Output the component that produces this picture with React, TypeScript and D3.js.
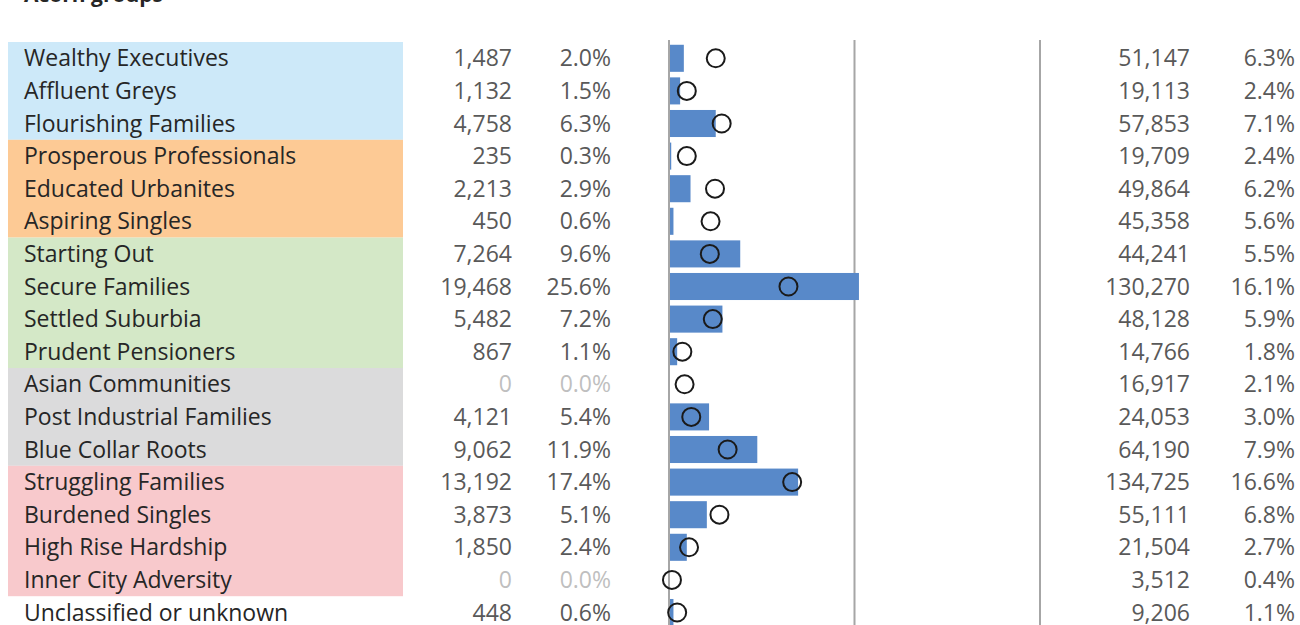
import React, { useRef, useEffect } from 'react';
import * as d3 from 'd3';

// Acorn groups, in table order
const groups = [
  'Wealthy Executives', 'Affluent Greys', 'Flourishing Families',
  'Prosperous Professionals', 'Educated Urbanites', 'Aspiring Singles',
  'Starting Out', 'Secure Families', 'Settled Suburbia', 'Prudent Pensioners',
  'Asian Communities', 'Post Industrial Families', 'Blue Collar Roots',
  'Struggling Families', 'Burdened Singles', 'High Rise Hardship', 'Inner City Adversity',
  'Unclassified or unknown',
];

// Acorn category bands (count of groups in each, and band colour)
const categorySizes = [3, 3, 4, 3, 4];
const categoryColors = ['#cde9f9', '#fdca95', '#d4e8c7', '#dbdbdc', '#f8c9cc'];

// local counts and share
const counts = [1487, 1132, 4758, 235, 2213, 450, 7264, 19468, 5482, 867, 0, 4121, 9062, 13192, 3873, 1850, 0, 448];
const shares = [2.0, 1.5, 6.3, 0.3, 2.9, 0.6, 9.6, 25.6, 7.2, 1.1, 0.0, 5.4, 11.9, 17.4, 5.1, 2.4, 0.0, 0.6];

// comparison base counts and share
const baseCounts = [51147, 19113, 57853, 19709, 49864, 45358, 44241, 130270, 48128, 14766, 16917, 24053, 64190, 134725, 55111, 21504, 3512, 9206];
const baseShares = [6.3, 2.4, 7.1, 2.4, 6.2, 5.6, 5.5, 16.1, 5.9, 1.8, 2.1, 3.0, 7.9, 16.6, 6.8, 2.7, 0.4, 1.1];

const gridTicks = [0, 25, 50];

const W = 1300;
const H = 625;
const FONT = '"Open Sans", Lato, sans-serif';
const FS = 23;

const App: React.FC = () => {
  const svgRef = useRef<SVGSVGElement | null>(null);

  useEffect(() => {
    if (!svgRef.current) return;
    const svg = d3.select(svgRef.current);
    svg.selectAll('*').remove();

    const top = 42;
    const step = 32.6;

    const y = d3
      .scaleBand<string>()
      .domain(groups)
      .range([top, top + step * groups.length])
      .paddingInner(0.17)
      .paddingOuter(0.085);

    const x = d3.scaleLinear().domain([0, 50]).range([669, 1040]);

    const rowY = (i: number) => top + step * i;
    const fmt = d3.format(',');
    const pct = (v: number) => v.toFixed(1) + '%';

    // title (cut at the top, as in the source)
    svg
      .append('text')
      .attr('x', 24)
      .attr('y', 2)
      .attr('font-family', FONT)
      .attr('font-weight', 'bold')
      .attr('font-size', 21)
      .attr('fill', '#262626')
      .text('Acorn groups');

    // category bands
    let start = 0;
    categorySizes.forEach((n, c) => {
      svg
        .append('rect')
        .attr('x', 8)
        .attr('y', rowY(start))
        .attr('width', 395)
        .attr('height', step * n)
        .attr('fill', categoryColors[c]);
      start += n;
    });

    // group labels
    svg
      .append('g')
      .selectAll('text')
      .data(groups)
      .enter()
      .append('text')
      .attr('x', 24)
      .attr('y', (_, i) => rowY(i) + step / 2 + 8)
      .attr('font-family', FONT)
      .attr('font-size', FS)
      .attr('fill', '#262626')
      .text((d) => d);

    // numeric columns
    const columns: { values: string[]; raw: number[]; x: number }[] = [
      { values: counts.map(fmt), raw: counts, x: 512 },
      { values: shares.map(pct), raw: counts, x: 611 },
      { values: baseCounts.map(fmt), raw: baseCounts, x: 1190 },
      { values: baseShares.map(pct), raw: baseCounts, x: 1295 },
    ];
    columns.forEach((col) => {
      svg
        .append('g')
        .selectAll('text')
        .data(col.values)
        .enter()
        .append('text')
        .attr('x', col.x)
        .attr('y', (_, i) => rowY(i) + step / 2 + 8)
        .attr('text-anchor', 'end')
        .attr('font-family', FONT)
        .attr('font-size', FS)
        .attr('fill', (_, i) => (col.raw[i] === 0 ? '#bfbfbf' : '#595959'))
        .text((d) => d);
    });

    // grid lines
    svg
      .append('g')
      .selectAll('line')
      .data(gridTicks)
      .enter()
      .append('line')
      .attr('x1', (d) => x(d))
      .attr('x2', (d) => x(d))
      .attr('y1', 40)
      .attr('y2', H)
      .attr('stroke', '#a6a6a6')
      .attr('stroke-width', 2);

    // bars: local share
    svg
      .append('g')
      .selectAll('rect')
      .data(groups)
      .enter()
      .append('rect')
      .attr('x', x(0) + 1)
      .attr('y', (d) => y(d) as number)
      .attr('width', (_, i) => Math.max(0, x(shares[i]) - x(0) - 1))
      .attr('height', y.bandwidth())
      .attr('fill', '#5889c9');

    // circles: base share
    svg
      .append('g')
      .selectAll('circle')
      .data(groups)
      .enter()
      .append('circle')
      .attr('cx', (_, i) => x(baseShares[i]))
      .attr('cy', (d) => (y(d) as number) + y.bandwidth() / 2)
      .attr('r', 9)
      .attr('fill', 'none')
      .attr('stroke', '#1a1a1a')
      .attr('stroke-width', 2);
  }, []);

  return (
    <svg
      ref={svgRef}
      width={W}
      height={H}
      style={{ position: 'absolute', left: 0, top: 0, background: '#fff' }}
    />
  );
};

export default App;
